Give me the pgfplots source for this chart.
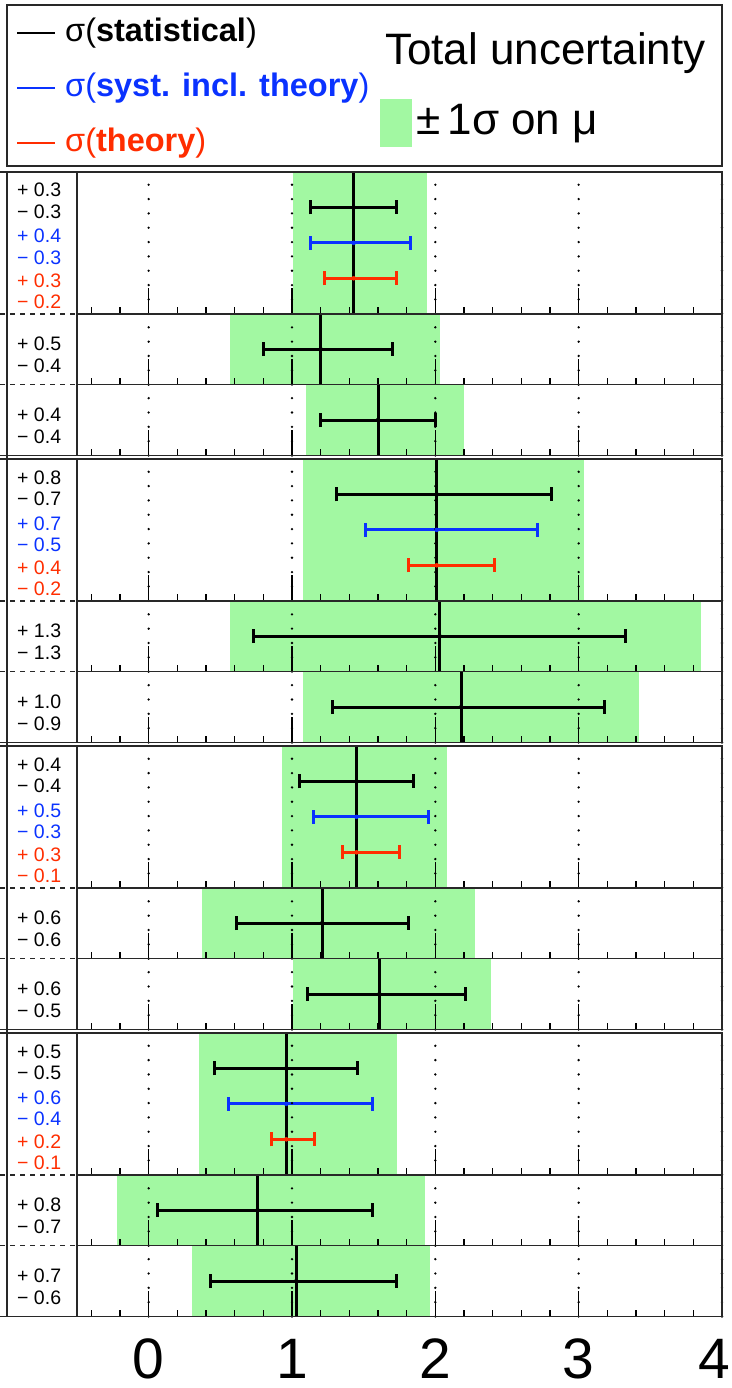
\documentclass[border=0pt]{standalone}
\usepackage{fontspec}
\setmainfont{Liberation Sans}
\usepackage{pgfplots}
\pgfplotsset{compat=1.18}

\definecolor{bandgreen}{RGB}{162,248,162}
\definecolor{systblue}{RGB}{10,50,255}
\definecolor{theored}{RGB}{255,45,0}
\definecolor{framegray}{RGB}{40,40,40}

\newcommand\lblfont{\fontsize{19.5}{20}\selectfont}
\newcommand\legfont{\fontsize{32.5}{34}\selectfont}
\newcommand\bigfont{\fontsize{44}{46}\selectfont}

% one pair of "+ up / - down" numbers in the left column
% #1 row top, #2 offset of first baseline, #3 colour, #4 up, #5 down
\newcommand\errpair[5]{%
  \node[anchor=base west, inner sep=0pt, text=#3, font=\lblfont] at (17,-#1-#2) {+ #4};
  \node[anchor=base west, inner sep=0pt, text=#3, font=\lblfont] at (17,-#1-#2-21.5) {− #5};
}

\pgfplotsset{
  panel/.style={
    scale only axis, width=645pt, anchor=south west,
    xmin=-0.5, xmax=4, ymin=0,
    axis on top,
    axis line style={line width=1.6pt, framegray},
    xtick={0,1,2,3,4},
    minor xtick={-0.4,-0.2,...,3.8},
    xtick pos=bottom, ytick=\empty,
    tick align=inside,
    major tick length=26pt, minor tick length=7pt,
    tick style={line width=1.4pt, black},
    xticklabels={},
    xmajorgrids,
    major grid style={black, line width=2.6pt, line cap=round, dash pattern=on 0pt off 14.33pt},
  },
  band/.style={fill=bandgreen, draw=none},
  muline/.style={black, line width=3pt},
  ebar/.style={only marks, mark=none, #1,
    error bars/.cd, x dir=both, x explicit, error mark=|,
    error bar style={line width=3pt, #1},
    error mark options={#1, line width=3pt, mark size=7pt}},
}

\begin{document}
\begin{tikzpicture}[x=1pt,y=1pt]

% ---------------- group 1 ----------------
\begin{axis}[panel, at={(77pt,-313.75pt)}, height=141.75pt, ymax=2]
  \addplot[band] coordinates {(1.01,0) (1.94,0) (1.94,2) (1.01,2)};
  \addplot[muline] coordinates {(1.43,0) (1.43,2)};
  \addplot[ebar=black] coordinates {(1.43,1.5) += (0.3,0) -= (0.3,0)};
  \addplot[ebar=systblue] coordinates {(1.43,1.0) += (0.4,0) -= (0.3,0)};
  \addplot[ebar=theored] coordinates {(1.43,0.5) += (0.3,0) -= (0.2,0)};
\end{axis}
\begin{axis}[panel, at={(77pt,-384.625pt)}, height=70.875pt, ymax=1]
  \addplot[band] coordinates {(0.57,0) (2.03,0) (2.03,1) (0.57,1)};
  \addplot[muline] coordinates {(1.20,0) (1.20,1)};
  \addplot[ebar=black] coordinates {(1.20,0.5) += (0.5,0) -= (0.4,0)};
\end{axis}
\begin{axis}[panel, at={(77pt,-455.5pt)}, height=70.875pt, ymax=1]
  \addplot[band] coordinates {(1.10,0) (2.20,0) (2.20,1) (1.10,1)};
  \addplot[muline] coordinates {(1.60,0) (1.60,1)};
  \addplot[ebar=black] coordinates {(1.60,0.5) += (0.4,0) -= (0.4,0)};
\end{axis}

% ---------------- group 2 ----------------
\begin{axis}[panel, at={(77pt,-600.75pt)}, height=141.75pt, ymax=2]
  \addplot[band] coordinates {(1.08,0) (3.04,0) (3.04,2) (1.08,2)};
  \addplot[muline] coordinates {(2.01,0) (2.01,2)};
  \addplot[ebar=black] coordinates {(2.01,1.5) += (0.8,0) -= (0.7,0)};
  \addplot[ebar=systblue] coordinates {(2.01,1.0) += (0.7,0) -= (0.5,0)};
  \addplot[ebar=theored] coordinates {(2.01,0.5) += (0.4,0) -= (0.2,0)};
\end{axis}
\begin{axis}[panel, at={(77pt,-671.625pt)}, height=70.875pt, ymax=1]
  \addplot[band] coordinates {(0.57,0) (3.85,0) (3.85,1) (0.57,1)};
  \addplot[muline] coordinates {(2.03,0) (2.03,1)};
  \addplot[ebar=black] coordinates {(2.03,0.5) += (1.3,0) -= (1.3,0)};
\end{axis}
\begin{axis}[panel, at={(77pt,-742.5pt)}, height=70.875pt, ymax=1]
  \addplot[band] coordinates {(1.08,0) (3.42,0) (3.42,1) (1.08,1)};
  \addplot[muline] coordinates {(2.18,0) (2.18,1)};
  \addplot[ebar=black] coordinates {(2.18,0.5) += (1.0,0) -= (0.9,0)};
\end{axis}

% ---------------- group 3 ----------------
\begin{axis}[panel, at={(77pt,-887.75pt)}, height=141.75pt, ymax=2]
  \addplot[band] coordinates {(0.93,0) (2.08,0) (2.08,2) (0.93,2)};
  \addplot[muline] coordinates {(1.45,0) (1.45,2)};
  \addplot[ebar=black] coordinates {(1.45,1.5) += (0.4,0) -= (0.4,0)};
  \addplot[ebar=systblue] coordinates {(1.45,1.0) += (0.5,0) -= (0.3,0)};
  \addplot[ebar=theored] coordinates {(1.45,0.5) += (0.3,0) -= (0.1,0)};
\end{axis}
\begin{axis}[panel, at={(77pt,-958.625pt)}, height=70.875pt, ymax=1]
  \addplot[band] coordinates {(0.37,0) (2.28,0) (2.28,1) (0.37,1)};
  \addplot[muline] coordinates {(1.21,0) (1.21,1)};
  \addplot[ebar=black] coordinates {(1.21,0.5) += (0.6,0) -= (0.6,0)};
\end{axis}
\begin{axis}[panel, at={(77pt,-1029.5pt)}, height=70.875pt, ymax=1]
  \addplot[band] coordinates {(1.01,0) (2.39,0) (2.39,1) (1.01,1)};
  \addplot[muline] coordinates {(1.61,0) (1.61,1)};
  \addplot[ebar=black] coordinates {(1.61,0.5) += (0.6,0) -= (0.5,0)};
\end{axis}

% ---------------- group 4 ----------------
\begin{axis}[panel, at={(77pt,-1174.75pt)}, height=141.75pt, ymax=2]
  \addplot[band] coordinates {(0.35,0) (1.73,0) (1.73,2) (0.35,2)};
  \addplot[muline] coordinates {(0.96,0) (0.96,2)};
  \addplot[ebar=black] coordinates {(0.96,1.5) += (0.5,0) -= (0.5,0)};
  \addplot[ebar=systblue] coordinates {(0.96,1.0) += (0.6,0) -= (0.4,0)};
  \addplot[ebar=theored] coordinates {(0.96,0.5) += (0.2,0) -= (0.1,0)};
\end{axis}
\begin{axis}[panel, at={(77pt,-1245.625pt)}, height=70.875pt, ymax=1]
  \addplot[band] coordinates {(-0.22,0) (1.93,0) (1.93,1) (-0.22,1)};
  \addplot[muline] coordinates {(0.76,0) (0.76,1)};
  \addplot[ebar=black] coordinates {(0.76,0.5) += (0.8,0) -= (0.7,0)};
\end{axis}
\begin{axis}[panel, at={(77pt,-1316.5pt)}, height=70.875pt, ymax=1,
    % the last label is pulled in so that it stays on the page
    xticklabels={0,1,2,3,\hbox to 0pt{\hss 4\hskip -8pt}},
    /pgf/number format/assume math mode=true,
    xticklabel style={font=\fontsize{57}{60}\selectfont, anchor=base,
      inner sep=0pt, text depth=0pt, yshift=-62pt}]
  \addplot[band] coordinates {(0.30,0) (1.96,0) (1.96,1) (0.30,1)};
  \addplot[muline] coordinates {(1.03,0) (1.03,1)};
  \addplot[ebar=black] coordinates {(1.03,0.5) += (0.7,0) -= (0.6,0)};
\end{axis}

% ---------------- left column frame ----------------
\draw[line width=1.6pt, framegray] (7,-172) -- (7,-1316.5);
\foreach \yy in {172, 455.5, 459, 742.5, 746, 1029.5, 1033, 1316.5}
  \draw[line width=1.6pt, framegray] (0,-\yy) -- (77,-\yy);
\foreach \yy in {313.75, 384.625, 600.75, 671.625, 887.75, 958.625, 1174.75, 1245.625}
  \draw[line width=1.6pt, framegray, dash pattern=on 5pt off 5pt] (0,-\yy) -- (77,-\yy);

% ---------------- left column numbers ----------------
\errpair{172}{25}{black}{0.3}{0.3}
\errpair{172}{71}{systblue}{0.4}{0.3}
\errpair{172}{115}{theored}{0.3}{0.2}
\errpair{313.75}{37}{black}{0.5}{0.4}
\errpair{384.625}{37}{black}{0.4}{0.4}
\errpair{459}{25}{black}{0.8}{0.7}
\errpair{459}{71}{systblue}{0.7}{0.5}
\errpair{459}{115}{theored}{0.4}{0.2}
\errpair{600.75}{37}{black}{1.3}{1.3}
\errpair{671.625}{37}{black}{1.0}{0.9}
\errpair{746}{25}{black}{0.4}{0.4}
\errpair{746}{71}{systblue}{0.5}{0.3}
\errpair{746}{115}{theored}{0.3}{0.1}
\errpair{887.75}{37}{black}{0.6}{0.6}
\errpair{958.625}{37}{black}{0.6}{0.5}
\errpair{1033}{25}{black}{0.5}{0.5}
\errpair{1033}{71}{systblue}{0.6}{0.4}
\errpair{1033}{115}{theored}{0.2}{0.1}
\errpair{1174.75}{37}{black}{0.8}{0.7}
\errpair{1245.625}{37}{black}{0.7}{0.6}

% ---------------- legend ----------------
\draw[line width=1.6pt, framegray] (7,-5) rectangle (722,-166);
\draw[black, line width=2.6pt] (17,-33) -- (55,-33);
\draw[systblue, line width=2.6pt] (17,-88) -- (55,-88);
\draw[theored, line width=2.6pt] (17,-143) -- (55,-143);
\node[anchor=base west, inner sep=0pt, font=\legfont, text=black] at (65,-42) {σ(\textbf{statistical})};
\node[anchor=base west, inner sep=0pt, font=\legfont, text=systblue] at (65,-97) {σ(\textbf{syst. incl. theory})};
\node[anchor=base west, inner sep=0pt, font=\legfont, text=theored] at (65,-152) {σ(\textbf{theory})};
\node[anchor=base west, inner sep=0pt, font=\bigfont] at (385,-65) {Total uncertainty};
\fill[bandgreen] (380,-99) rectangle (411.5,-147.3);
\node[anchor=base west, inner sep=0pt, font=\bigfont] at (416,-135) {±\,1σ on μ};

\pgfresetboundingbox
\path[use as bounding box] (0,0) rectangle (731,-1388);
\end{tikzpicture}
\end{document}
